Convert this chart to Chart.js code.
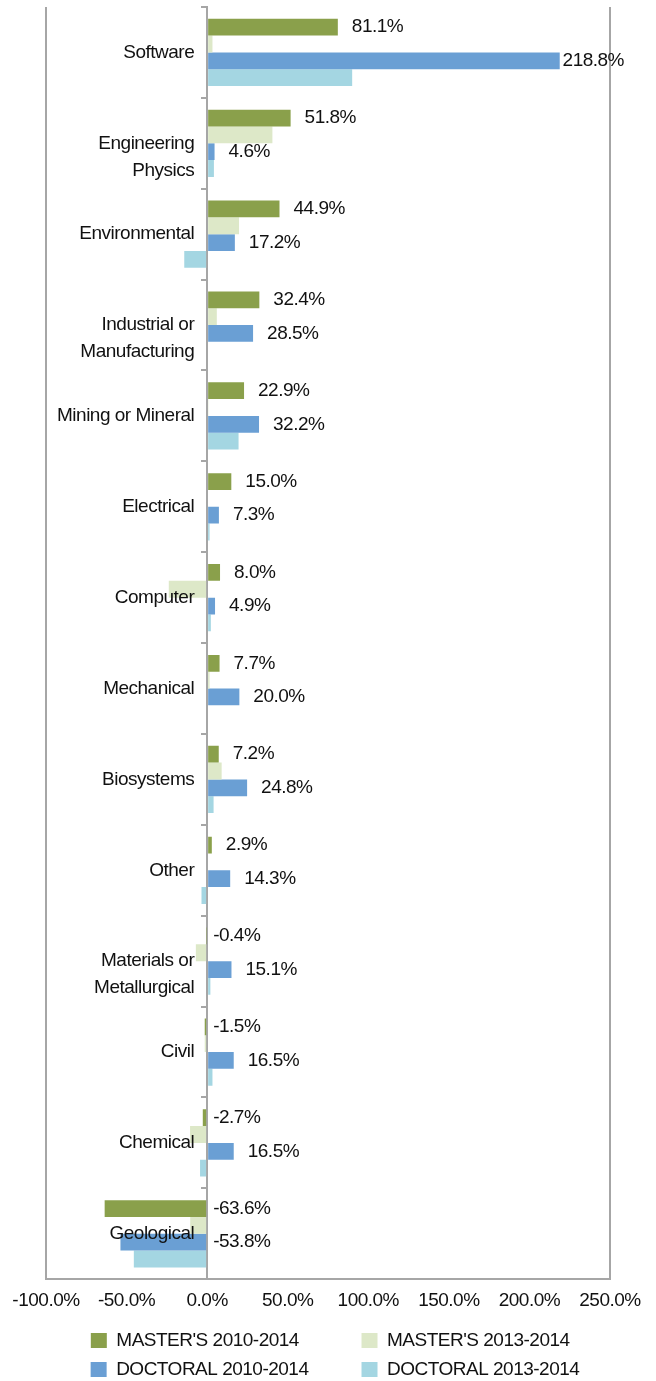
<!DOCTYPE html>
<html><head><meta charset="utf-8">
<script src="https://cdn.jsdelivr.net/npm/chart.js@4.4.1/dist/chart.umd.min.js"></script>
<style>html,body{margin:0;padding:0;background:#fff;}#wrap{width:656px;height:1381px;}</style>
</head><body><div id="wrap"><canvas id="c" width="656" height="1381"></canvas></div>
<script>
const categories = ['Software', ['Engineering', 'Physics'], 'Environmental', ['Industrial or', 'Manufacturing'], 'Mining or Mineral', 'Electrical', 'Computer', 'Mechanical', 'Biosystems', 'Other', ['Materials or', 'Metallurgical'], 'Civil', 'Chemical', 'Geological'];
const seriesNames = ["MASTER'S 2010-2014", "MASTER'S 2013-2014", "DOCTORAL 2010-2014", "DOCTORAL 2013-2014"];
const masters2010 = [81.1, 51.8, 44.9, 32.4, 22.9, 15.0, 8.0, 7.7, 7.2, 2.9, -0.4, -1.5, -2.7, -63.6];
const masters2013 = [3.3, 40.5, 19.8, 6.0, 0.8, 0, -23.8, 1.5, 9.0, 0, -7.0, -1.5, -10.6, -10.5];
const doctoral2010 = [218.8, 4.6, 17.2, 28.5, 32.2, 7.3, 4.9, 20.0, 24.8, 14.3, 15.1, 16.5, 16.5, -53.8];
const doctoral2013 = [90.0, 4.2, -14.2, 0, 19.5, 1.5, 2.3, 0, 4.0, -3.5, 2.0, 3.3, -4.4, -45.5];
const xMin = -100, xMax = 250, xStep = 50;

const FONT = "'Liberation Sans', Arial, sans-serif";
const FS = 19;
const COLORS = ['#8AA04B', '#DDE8C8', '#6A9FD4', '#A4D6E2'];
const AXIS = '#A6A6A6';
const TEXT = '#111111';
const LABELLED = [0, 2];
const LEGEND_PAD = [11, 2, 9, 0];

const tightText = {
  id: 'tightText',
  afterInit(chart) { chart.ctx.letterSpacing = '-0.5px'; },
  beforeUpdate(chart) { chart.ctx.letterSpacing = '-0.5px'; },
  beforeDraw(chart) { chart.ctx.letterSpacing = '-0.5px'; }
};

const legendShift = {
  id: 'legendShift',
  afterLayout(chart) {
    if (chart.legend) { chart.legend.left += 7; chart.legend.right += 7; }
  }
};

const valueLabels = {
  id: 'valueLabels',
  afterDatasetsDraw(chart) {
    const ctx = chart.ctx;
    ctx.save();
    ctx.font = FS + 'px ' + FONT;
    ctx.fillStyle = TEXT;
    ctx.textBaseline = 'middle';
    ctx.textAlign = 'left';
    LABELLED.forEach(di => {
      const meta = chart.getDatasetMeta(di);
      meta.data.forEach((bar, i) => {
        const v = chart.data.datasets[di].data[i];
        const txt = v.toFixed(1) + '%';
        const w = ctx.measureText(txt).width;
        let x = v >= 0 ? bar.x + 14 : bar.base + 7;
        x = Math.min(x, chart.width - 32 - w);
        ctx.fillText(txt, x, bar.y);
      });
    });
    ctx.restore();
  }
};

const series = [masters2010, masters2013, doctoral2010, doctoral2013];
new Chart(document.getElementById('c'), {
  type: 'bar',
  data: {
    labels: categories,
    datasets: series.map((d, i) => ({ label: seriesNames[i], data: d, backgroundColor: COLORS[i], borderWidth: 0 }))
  },
  options: {
    indexAxis: 'y',
    responsive: false,
    animation: false,
    layout: { padding: { left: 46, right: 46, top: 7, bottom: -8 } },
    datasets: { bar: { categoryPercentage: 0.74, barPercentage: 1 } },
    plugins: {
      tooltip: { enabled: false },
      legend: {
        position: 'bottom',
        align: 'center',
        labels: {
          font: { size: FS, family: FONT },
          color: TEXT,
          boxWidth: 16,
          boxHeight: 15,
          padding: 10,
          generateLabels(chart) {
            const items = Chart.defaults.plugins.legend.labels.generateLabels(chart);
            items.forEach((it, i) => { it.text = it.text + '\u00A0'.repeat(LEGEND_PAD[i]); it.lineWidth = 0; });
            return items;
          }
        }
      }
    },
    scales: {
      x: {
        type: 'linear', min: xMin, max: xMax,
        ticks: { stepSize: xStep, callback: v => Number(v).toFixed(1) + '%', font: { size: FS, family: FONT }, color: TEXT, padding: 10, maxRotation: 0, autoSkip: false },
        grid: { color: c => (c.tick && (c.tick.value === xMin || c.tick.value === xMax)) ? AXIS : 'rgba(0,0,0,0)', lineWidth: 2, drawTicks: false },
        border: { display: true, color: AXIS, width: 2 },
        afterFit: s => { s.height -= 1; }
      },
      y: {
        type: 'category', position: { x: 0 }, offset: true,
        grid: { display: true, drawOnChartArea: false, drawTicks: true, tickLength: 5, color: AXIS, lineWidth: 2, offset: true },
        border: { display: true, color: AXIS, width: 2 },
        ticks: { display: false },
        afterFit: s => { s.paddingTop = 0; s.paddingBottom = 0; }
      },
      y2: {
        type: 'category', axis: 'y', position: { x: -8 }, offset: true,
        grid: { display: false },
        border: { display: false },
        ticks: {
          z: 1, autoSkip: false, color: TEXT,
          font: { size: FS, family: FONT, lineHeight: 1.42 },
          callback(v) { const l = this.getLabelForValue(v); return Array.isArray(l) ? [''].concat(l) : l; }
        },
        afterFit: s => { s.paddingTop = 0; s.paddingBottom = 0; }
      }
    }
  },
  plugins: [tightText, legendShift, valueLabels]
});
</script></body></html>
